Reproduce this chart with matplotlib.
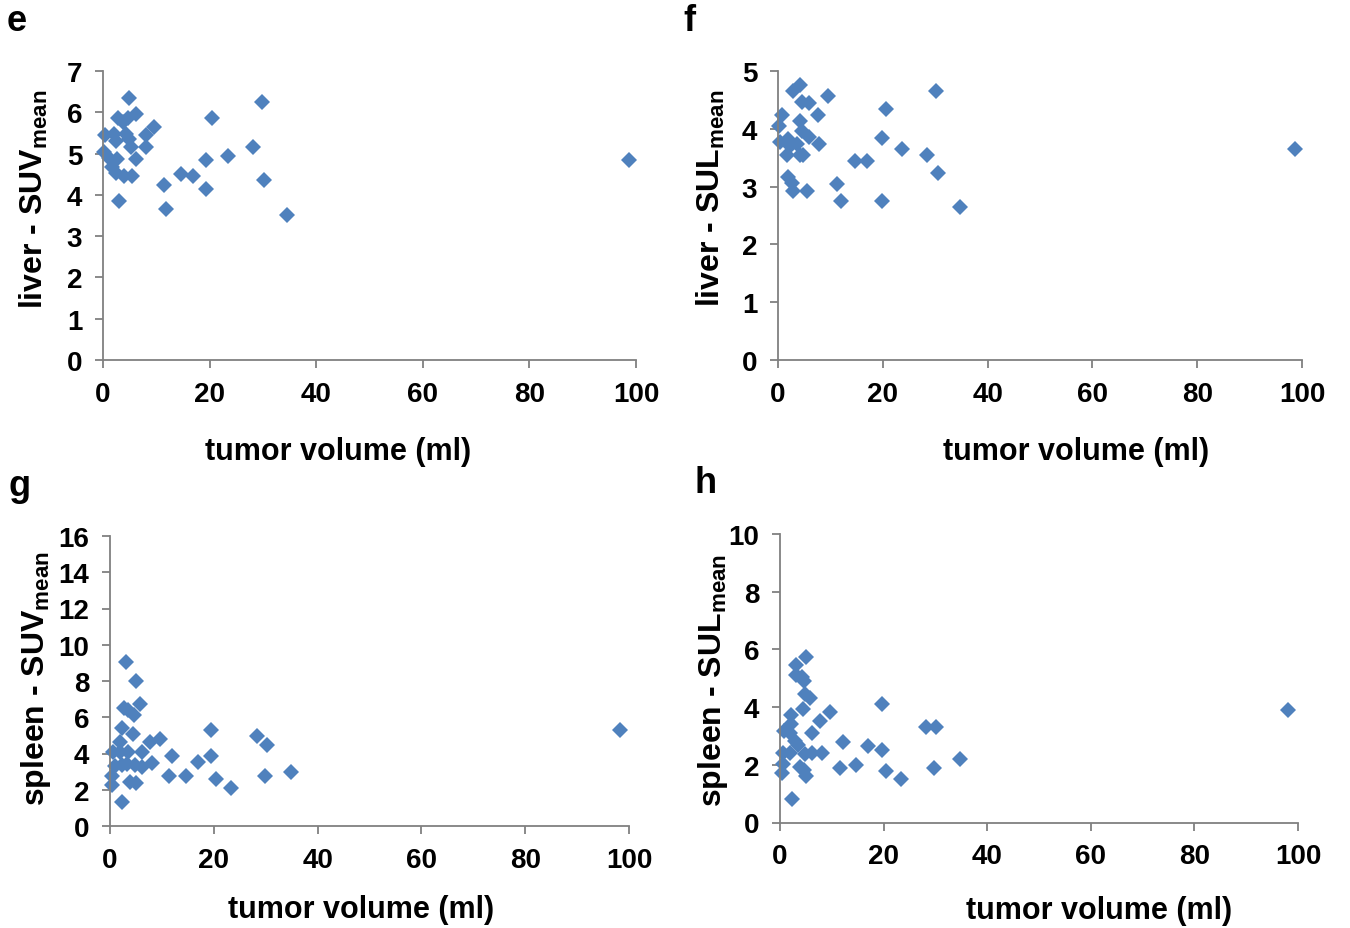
import matplotlib
matplotlib.use("Agg")
import matplotlib.pyplot as plt

plt.rcParams['font.family'] = ['Liberation Sans', 'DejaVu Sans']
plt.rcParams['mathtext.fontset'] = 'custom'
plt.rcParams['mathtext.rm'] = 'Liberation Sans'
plt.rcParams['mathtext.bf'] = 'Liberation Sans:bold'

# ---- data ----
e_x = [0.2, 0.4, 1.1, 1.75, 2.1, 2.4, 2.4, 2.7, 3.0, 2.9, 3.8, 3.9, 4.3, 4.6, 4.8, 4.9,
       5.2, 5.5, 6.1, 6.1, 8.0, 8.0, 9.6, 11.5, 11.9, 14.6, 16.8, 19.4, 19.4, 20.5,
       23.4, 28.1, 29.8, 30.3, 34.5, 98.6]
e_y = [5.05, 5.45, 4.9, 4.67, 5.47, 5.31, 4.54, 4.87, 3.86, 5.85, 5.77, 4.46, 5.47, 5.87,
       6.35, 5.35, 5.15, 4.46, 5.97, 4.87, 5.45, 5.15, 5.65, 4.25, 3.65, 4.5, 4.45, 4.85,
       4.15, 5.85, 4.95, 5.15, 6.25, 4.35, 3.52, 4.85]

f_x = [0.25, 0.4, 0.7, 1.7, 2.0, 2.0, 2.3, 2.6, 2.9, 2.9, 3.6, 4.2, 4.2, 4.2, 4.5, 4.5,
       4.8, 5.5, 6.0, 6.0, 7.7, 7.9, 9.6, 11.3, 12.0, 14.7, 16.9, 19.8, 19.8, 20.6,
       23.6, 28.5, 30.2, 30.6, 34.7, 98.6]
f_y = [4.05, 3.77, 4.24, 3.55, 3.82, 3.17, 3.71, 3.07, 4.66, 2.93, 3.74, 4.75, 4.14, 3.55,
       4.46, 3.96, 3.55, 2.93, 4.44, 3.86, 4.24, 3.74, 4.56, 3.04, 2.75, 3.44, 3.44, 3.84,
       2.75, 4.34, 3.65, 3.55, 4.65, 3.24, 2.64, 3.65]

g_x = [0.3, 0.3, 0.6, 0.96, 1.9, 1.9, 2.25, 2.4, 2.4, 2.75, 3.0, 3.2, 3.5, 3.5, 3.9,
       4.5, 4.7, 4.8, 5.0, 5.1, 5.8, 6.1, 6.1, 7.7, 8.0, 9.6, 11.4, 12.0, 14.6, 17.0,
       19.5, 19.5, 20.5, 23.4, 28.3, 29.9, 30.2, 34.9, 98.3]
g_y = [2.78, 2.26, 4.1, 3.33, 4.65, 4.07, 3.37, 5.39, 1.34, 6.49, 9.07, 3.42, 6.42, 4.07,
       2.45, 5.08, 6.12, 3.37, 8.02, 2.37, 6.73, 4.1, 3.24, 4.62, 3.48, 4.8, 2.74, 3.85,
       2.74, 3.51, 5.31, 3.85, 2.59, 2.08, 4.98, 2.74, 4.47, 3.0, 5.3]

h_x = [0.45, 0.6, 0.6, 0.8, 1.9, 1.9, 2.1, 2.2, 2.4, 2.9, 3.0, 3.0, 3.4, 3.8, 4.2,
       4.5, 4.7, 4.7, 4.8, 4.8, 5.1, 5.1, 5.8, 6.1, 6.1, 7.7, 8.1, 9.6, 11.5, 12.2,
       14.6, 17.0, 19.6, 19.6, 20.5, 23.3, 28.2, 29.8, 30.1, 34.8, 98.1]
h_y = [1.71, 2.42, 2.02, 3.17, 3.11, 2.4, 3.71, 3.4, 0.81, 2.82, 5.47, 5.12, 2.67, 1.94,
       5.04, 3.94, 4.92, 1.82, 4.47, 2.36, 5.73, 1.61, 4.32, 3.11, 2.4, 3.51, 2.4, 3.82,
       1.9, 2.79, 1.98, 2.65, 4.12, 2.51, 1.79, 1.5, 3.3, 1.9, 3.3, 2.21, 3.91]

x_ticks = [0, 20, 40, 60, 80, 100]
e_yticks = [0, 1, 2, 3, 4, 5, 6, 7]
f_yticks = [0, 1, 2, 3, 4, 5]
g_yticks = [0, 2, 4, 6, 8, 10, 12, 14, 16]
h_yticks = [0, 2, 4, 6, 8, 10]

x_label = "tumor volume (ml)"
e_label = r"liver - SUV$_{\mathregular{mean}}$"
f_label = r"liver - SUL$_{\mathregular{mean}}$"
g_label = r"spleen - SUV$_{\mathregular{mean}}$"
h_label = r"spleen - SUL$_{\mathregular{mean}}$"

W, H = 1350, 929
fig = plt.figure(figsize=(W / 100, H / 100), dpi=100)
fig.patch.set_facecolor('white')

def rect(l, r, b, t):
    return [l / W, 1 - b / H, (r - l) / W, (b - t) / H]

def fx(px):
    return px / W

def fy(py):
    return 1 - py / H

# (axes rect, x, y, yticks, ylabel, letter, letter pos, xlabel centre, ylabel centre)
panels = [
    (rect(103, 636, 361, 72), e_x, e_y, e_yticks, e_label, 'e', (7, 31), (338, 452), (34, 199)),
    (rect(778, 1302, 361, 72), f_x, f_y, f_yticks, f_label, 'f', (683, 31), (1076, 452), (711, 198)),
    (rect(110, 629, 827, 537), g_x, g_y, g_yticks, g_label, 'g', (9, 496), (361, 910), (36, 678)),
    (rect(780, 1298, 823.5, 535), h_x, h_y, h_yticks, h_label, 'h', (694, 493), (1099, 911), (713, 680)),
]

spine_color = '#808080'
marker_color = '#4F81BD'

for r, xs, ys, yt, ylab, letter, lpos, xlpos, ylpos in panels:
    ax = fig.add_axes(r)
    ax.plot(xs, ys, linestyle='none', marker='D', markersize=8.3,
            color=marker_color, markeredgewidth=0, clip_on=False)
    ax.set_xlim(0, 100)
    ax.set_ylim(yt[0], yt[-1])
    ax.set_xticks(x_ticks)
    ax.set_yticks(yt)
    for s in ['top', 'right']:
        ax.spines[s].set_visible(False)
    for s in ['left', 'bottom']:
        ax.spines[s].set_color(spine_color)
        ax.spines[s].set_linewidth(1.3)
    ax.tick_params(direction='out', length=6, width=1.3, color=spine_color,
                   labelsize=20, pad=9)
    for lab in ax.get_xticklabels() + ax.get_yticklabels():
        lab.set_fontweight('bold')
    fig.text(fx(xlpos[0]), fy(xlpos[1]), x_label, fontsize=22, fontweight='bold',
             ha='center', va='center')
    fig.text(fx(ylpos[0]), fy(ylpos[1]), ylab, fontsize=23, fontweight='bold',
             ha='center', va='center', rotation=90)
    fig.text(fx(lpos[0]), fy(lpos[1]), letter, fontsize=26,
             fontweight='bold', ha='left', va='baseline')

fig.savefig('out.png', dpi=100, facecolor='white')
